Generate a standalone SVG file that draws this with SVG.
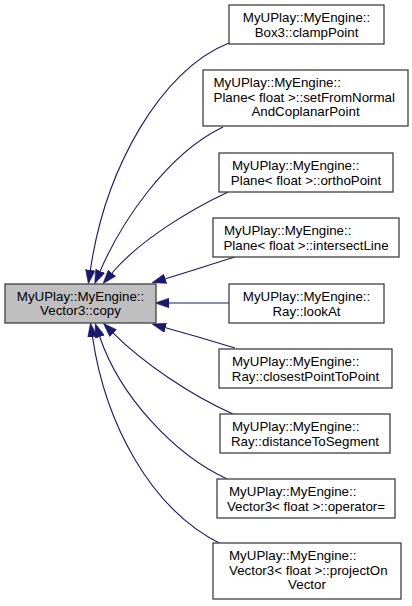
<svg xmlns="http://www.w3.org/2000/svg" width="412" height="606" viewBox="0 0 412 606">
<defs>
<style>
.node rect{fill:#ffffff;stroke:#404040;stroke-width:1.3}
#n0 rect{fill:#bfbfbf}
text{font-family:"Liberation Sans",Arial,Helvetica,sans-serif;font-size:13.33px;fill:#000000}
.m{text-anchor:middle}
.edge{fill:none;stroke:#191970;stroke-width:1.1;marker-end:url(#ah)}
</style>
<marker id="ah" markerUnits="userSpaceOnUse" markerWidth="14" markerHeight="10" refX="0" refY="4.5" orient="auto" viewBox="0 0 13 9">
<path d="M0,0 L13,4.5 L0,9 z" fill="#191970" stroke="#191970" stroke-width="0.5"/>
</marker>
</defs>
<rect width="412" height="606" fill="#ffffff"/>
<g id="edges">
<path class="edge" d="M229,43 C160,70 105,170 90.4,270"/>
<path class="edge" d="M223,127 C165,155 120,225 100.2,271"/>
<path class="edge" d="M228,192 C190,210 140,240 112,273"/>
<path class="edge" d="M235,257 C212,264 188,272 165.4,278.7"/>
<path class="edge" d="M229,303 L169,303"/>
<path class="edge" d="M235,348 C212,341 188,334 165.6,327.8"/>
<path class="edge" d="M233,414 C190,395 142,362 113.2,333.2"/>
<path class="edge" d="M227,479 C175,455 120,397 99.7,336.8"/>
<path class="edge" d="M223,545 C150,510 105,422 92.5,336.9"/>
</g>
<g id="n0" class="node">
<rect x="5" y="284" width="151" height="39"/>
<text class="m" x="80.5" y="300.5">MyUPlay::MyEngine::</text>
<text class="m" x="80.5" y="315.2">Vector3::copy</text>
</g>
<g id="n1" class="node">
<rect x="229" y="5" width="155" height="39"/>
<text class="m" x="306.5" y="22">MyUPlay::MyEngine::</text>
<text class="m" x="306.5" y="36.7">Box3::clampPoint</text>
</g>
<g id="n2" class="node">
<rect x="203" y="70" width="205" height="56"/>
<text x="213.5" y="87">MyUPlay::MyEngine::</text>
<text x="213.5" y="101.7">Plane&lt; float &gt;::setFromNormal</text>
<text class="m" x="305.5" y="116.3">AndCoplanarPoint</text>
</g>
<g id="n3" class="node">
<rect x="219" y="153" width="174" height="39"/>
<text x="232" y="170">MyUPlay::MyEngine::</text>
<text class="m" x="306" y="184.7">Plane&lt; float &gt;::orthoPoint</text>
</g>
<g id="n4" class="node">
<rect x="213" y="218" width="186" height="39"/>
<text x="224" y="235">MyUPlay::MyEngine::</text>
<text class="m" x="306" y="249.7">Plane&lt; float &gt;::intersectLine</text>
</g>
<g id="n5" class="node">
<rect x="229" y="284" width="155" height="39"/>
<text class="m" x="306.5" y="301">MyUPlay::MyEngine::</text>
<text class="m" x="306.5" y="315.7">Ray::lookAt</text>
</g>
<g id="n6" class="node">
<rect x="219" y="349" width="173" height="39"/>
<text x="232" y="366">MyUPlay::MyEngine::</text>
<text class="m" x="305.5" y="380.7">Ray::closestPointToPoint</text>
</g>
<g id="n7" class="node">
<rect x="220" y="414" width="170" height="39"/>
<text x="232" y="431">MyUPlay::MyEngine::</text>
<text class="m" x="305" y="445.7">Ray::distanceToSegment</text>
</g>
<g id="n8" class="node">
<rect x="217" y="479" width="178" height="39"/>
<text x="229" y="496">MyUPlay::MyEngine::</text>
<text class="m" x="306" y="510.7">Vector3&lt; float &gt;::operator=</text>
</g>
<g id="n9" class="node">
<rect x="213" y="543" width="188" height="56"/>
<text x="229" y="560">MyUPlay::MyEngine::</text>
<text x="229" y="574.7">Vector3&lt; float &gt;::projectOn</text>
<text class="m" x="307" y="589.3">Vector</text>
</g>
</svg>
